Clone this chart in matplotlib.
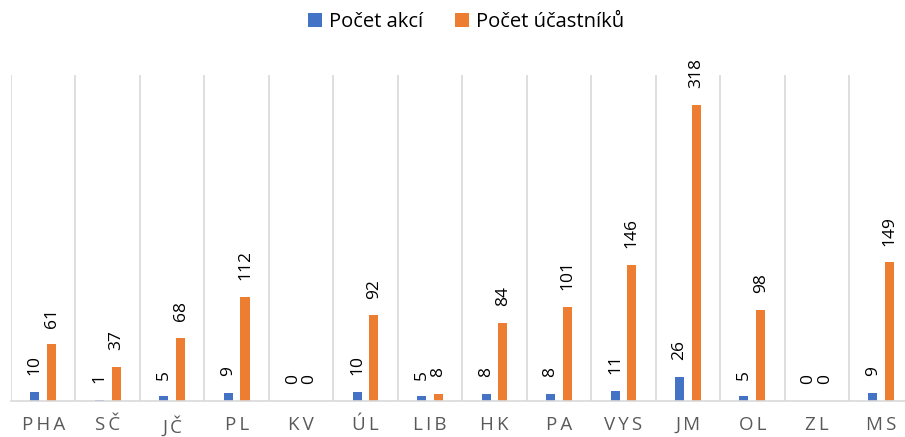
import matplotlib
matplotlib.use('Agg')
import matplotlib.pyplot as plt
import numpy as np

plt.rcParams['font.family'] = ['Open Sans', 'DejaVu Sans']

regions = ['PHA', 'SČ', 'JČ', 'PL', 'KV', 'ÚL', 'LIB', 'HK', 'PA', 'VYS', 'JM', 'OL', 'ZL', 'MS']
akce = [10, 1, 5, 9, 0, 10, 5, 8, 8, 11, 26, 5, 0, 9]
ucastnici = [61, 37, 68, 112, 0, 92, 8, 84, 101, 146, 318, 98, 0, 149]

blue = '#4472C4'
orange = '#ED7D31'

fig = plt.figure(figsize=(9.05, 4.37), dpi=100)
ax = fig.add_axes([11/905, 36/437, 902.5/905, 326/437])

x = np.arange(len(regions))
off = 0.13
w = 0.14
b1 = ax.bar(x - off, akce, w, color=blue, label='Počet akcí')
b2 = ax.bar(x + off, ucastnici, w, color=orange, label='Počet účastníků')

# value labels above bars, rotated like in the original
for bars in (b1, b2):
    for r in bars:
        ax.annotate(str(int(r.get_height())), (r.get_x() + r.get_width()/2, r.get_height()),
                    xytext=(0, 12), textcoords='offset points', rotation=90,
                    ha='center', va='bottom', fontsize=12.5, color='black')

ax.set_xlim(-0.5, len(regions) - 0.5)
ax.set_ylim(0, 350)
ax.set_yticks([])
ax.set_xticks(x)
ax.set_xticklabels(['\u2009'.join(r) for r in regions], fontsize=13.5, color='#595959')
ax.set_xticks(np.arange(-0.5, len(regions), 1), minor=True)
ax.tick_params(axis='x', which='both', length=0, pad=11)
ax.grid(which='minor', axis='x', color='#d9d9d9', linewidth=1.2)
ax.set_axisbelow(True)
for s in ['top', 'right', 'left']:
    ax.spines[s].set_visible(False)
ax.spines['bottom'].set_color('#d9d9d9')
ax.spines['bottom'].set_linewidth(1.2)

fig.legend(handles=[b1, b2], loc='center', bbox_to_anchor=(0.515, 1 - 22/437),
           ncol=2, frameon=False, fontsize=14.5, handlelength=0.7, handleheight=0.7,
           handletextpad=0.35, columnspacing=1.6)

plt.savefig('out.png', dpi=100)
